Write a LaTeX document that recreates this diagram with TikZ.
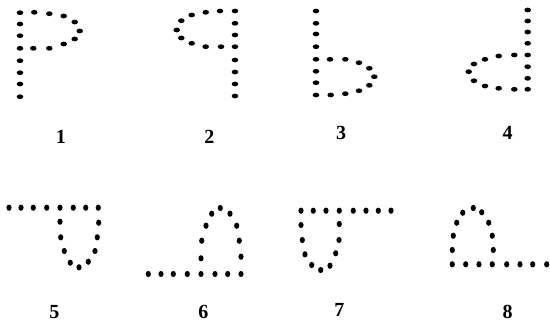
\documentclass[tikz,border=0pt]{standalone}
\usepackage{fontspec}
\setmainfont{Liberation Serif}
\begin{document}
\begin{tikzpicture}[x=1pt,y=-1pt,
    dotup/.style={fill=black},
    lbl/.style={font=\fontsize{20}{24}\selectfont\bfseries, inner sep=0pt}
  ]
  \useasboundingbox (0,0) rectangle (550,325);

  % ===== Upper row: stems with loops =====
  % figure 1
  \foreach \y in {12.7,24,35.7,48.3,60.7,72.7,84,96.7}
    \fill[dotup] (20,\y) ellipse (3.3 and 2.4);
  \foreach \x/\y in {34.3/12.3,49.3/13.7,63.7/16,74.7/22,79.7/31,74.7/39,63.7/44,49.3/48.3,33.3/48.3}
    \fill[dotup] (\x,\y) ellipse (3.3 and 2.4);
  \node[lbl] (n1) at (61,137) {1};

  % figure 2
  \foreach \y in {11,23.3,35,46.7,60,72,84,96}
    \fill[dotup] (235,\y) ellipse (3.3 and 2.4);
  \foreach \x/\y in {220/11,205.7/12.3,191.7/15,181.3/20.7,176.7/30,181.3/38,191.7/43.3,205.7/46.7,221/46.7}
    \fill[dotup] (\x,\y) ellipse (3.3 and 2.4);
  \node[lbl] (n2) at (209.3,136.7) {2};

  % figure 3
  \foreach \y in {11,23.3,34,46.7,59.3,71.3,82.7,95}
    \fill[dotup] (316,\y) ellipse (3.3 and 2.4);
  \foreach \x/\y in {330/59.3,345.3/59.3,359/62.7,369.3/68.3,374.3/76.7,369.3/85.3,359/90.7,345.3/93.7,330.7/95}
    \fill[dotup] (\x,\y) ellipse (3.3 and 2.4);
  \node[lbl] (n3) at (341,133.3) {3};

  % figure 4
  \foreach \y in {10,21,32,43.3,55,66.7,78.3,89.3}
    \fill[dotup] (527.7,\y) ellipse (3.3 and 2.4);
  \foreach \x/\y in {514.3/55,498.7/56,485/59.3,474/64,468.7/71.7,474/80.7,485/86,498.7/88.3,514.3/89.3}
    \fill[dotup] (\x,\y) ellipse (3.3 and 2.4);
  \node[lbl] (n4) at (507.7,133.3) {4};

  % ===== Lower row: lines with cups and arches =====
  % figure 5
  \foreach \x in {9,21,33.3,46.7,60,73.3,85.7,98.3}
    \fill[dotup] (\x,207.7) ellipse (2.6 and 3.1);
  \foreach \x/\y in {60/221.7,60.7/237.3,64.3/251,70.3/262.7,79/267.3,88.3/261.7,95/251,97.3/237.3,98.7/222.7}
    \fill[dotup] (\x,\y) ellipse (2.6 and 3.1);
  \node[lbl] (n5) at (54.3,311.7) {5};

  % figure 6
  \foreach \x in {148.3,161,173.3,187.3,201,215,227.7,241}
    \fill[dotup] (\x,274) ellipse (2.6 and 3.1);
  \foreach \x/\y in {201/258.3,201.7/240.7,206/225.7,211.7/213.7,220.3/208,230/213.7,236.7/225.7,239.3/240.7,241/256.7}
    \fill[dotup] (\x,\y) ellipse (2.6 and 3.1);
  \node[lbl] (n6) at (203.3,311.7) {6};

  % figure 7
  \foreach \x in {301,313.3,326,339.3,353.3,366,378.3,391}
    \fill[dotup] (\x,210.7) ellipse (2.6 and 3.1);
  \foreach \x/\y in {301/225,302.3/240,305/254.3,311.7/265,320.7/270,330/265.7,335.7/253.3,339/240,339.3/224}
    \fill[dotup] (\x,\y) ellipse (2.6 and 3.1);
  \node[lbl] (n7) at (339.3,310) {7};

  % figure 8
  \foreach \x in {452.3,465.7,479,492.3,506.7,520,532.7,546.7}
    \fill[dotup] (\x,264.3) ellipse (2.6 and 3.1);
  \foreach \x/\y in {452.3/250,453.3/235.7,456.7/222.7,462.7/212.7,473.3/208,481.7/212.3,488.7/222.7,492.3/235.7,493.3/250}
    \fill[dotup] (\x,\y) ellipse (2.6 and 3.1);
  \node[lbl] (n8) at (507.7,311.7) {8};
\end{tikzpicture}
\end{document}
